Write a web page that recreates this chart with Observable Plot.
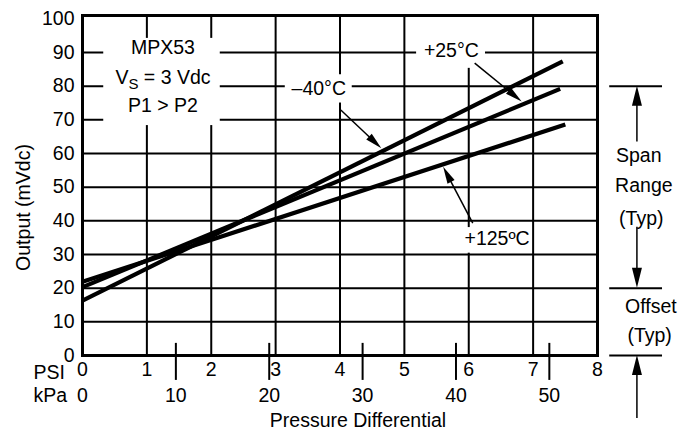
<!DOCTYPE html>
<html><head><meta charset="utf-8">
<script src="https://cdn.jsdelivr.net/npm/d3@7"></script>
<script src="https://cdn.jsdelivr.net/npm/@observablehq/plot@0.6"></script>
<style>
html,body{margin:0;padding:0;background:#fff;}
#chart svg{display:block;}
</style>
</head><body><div id="chart"></div>
<script>
// ---- data ----
const psiTicks = [0, 1, 2, 3, 4, 5, 6, 7, 8];
const kpaTicks = [0, 10, 20, 30, 40, 50];
const outputTicks = [0, 10, 20, 30, 40, 50, 60, 70, 80, 90, 100];
const seriesNames = ["–40°C", "+25°C", "+125ºC"];
const minus40Psi = [0, 7.46];
const minus40Out = [16.3, 87.4];
const plus25Psi = [0, 7.42];
const plus25Out = [20.3, 79.2];
const plus125Psi = [0, 7.50];
const plus125Out = [21.9, 68.6];
const infoLines = ["MPX53", "VS = 3 Vdc", "P1 > P2"];
const spanLabels = ["Span", "Range", "(Typ)"];
const offsetLabels = ["Offset", "(Typ)"];
const PSI_TO_KPA = 6.894757;

// ---- build rows ----
const rows = [];
[[minus40Psi, minus40Out], [plus25Psi, plus25Out], [plus125Psi, plus125Out]].forEach(([xs, ys], s) => {
  xs.forEach((x, i) => rows.push({series: seriesNames[s], psi: x, out: ys[i]}));
});
const kpaPos = kpaTicks.map(k => k / PSI_TO_KPA);

// ---- annotation placement (data units) ----
const boxes = [
  {x1: 0.33, x2: 2.14, y1: 68.3, y2: 94.2},
  {x1: 5.19, x2: 6.26, y1: 85.3, y2: 100.6},
  {x1: 3.15, x2: 4.19, y1: 75.0, y2: 83.4},
  {x1: 5.92, x2: 6.96, y1: 30.4, y2: 38.0}
];
const infoPos = [{x: 1.25, y: 91.5}, {x: 1.25, y: 82.6}, {x: 1.25, y: 74.3}];
const seriesLabelPos = [{x: 3.67, y: 79.2}, {x: 5.73, y: 90.6}, {x: 6.44, y: 34.7}];
const leaderArrows = [
  {x1: 4.02, y1: 72.8, x2: 4.65, y2: 61.4},
  {x1: 6.10, y1: 86.7, x2: 6.83, y2: 75.3},
  {x1: 6.07, y1: 39.2, x2: 5.61, y2: 55.9}
];
const rangeArrows = [
  {x1: 8.62, y1: 63.4, x2: 8.62, y2: 80},
  {x1: 8.62, y1: 38.1, x2: 8.62, y2: 20},
  {x1: 8.62, y1: -18.7, x2: 8.62, y2: 0}
];
const rangeLevels = [80, 20, 0];
const spanPos = [{x: 8.64, y: 59.2}, {x: 8.72, y: 50.3}, {x: 8.68, y: 40.7}];
const offsetPos = [{x: 8.83, y: 14.6}, {x: 8.81, y: 5.9}];

function arrowMark(arr, headLen, headW, sw) {
  return (index, scales) => {
    const g = d3.create("svg:g");
    for (const a of arr) {
      const x1 = scales.x(a.x1), y1 = scales.y(a.y1), x2 = scales.x(a.x2), y2 = scales.y(a.y2);
      const dx = x2 - x1, dy = y2 - y1, L = Math.hypot(dx, dy), ux = dx / L, uy = dy / L;
      const bx = x2 - ux * headLen, by = y2 - uy * headLen;
      g.append("line").attr("x1", x1).attr("y1", y1).attr("x2", bx + ux * 2).attr("y2", by + uy * 2)
        .attr("stroke", "black").attr("stroke-width", sw);
      g.append("path")
        .attr("d", `M${x2},${y2}L${bx - uy * headW / 2},${by + ux * headW / 2}L${bx + uy * headW / 2},${by - ux * headW / 2}Z`)
        .attr("fill", "black");
    }
    return g.node();
  };
}

const plot = Plot.plot({
  width: 679, height: 435,
  marginLeft: 82, marginRight: 82, marginTop: 15, marginBottom: 80,
  x: {domain: [0, 8]},
  y: {domain: [0, 101]},
  style: {fontFamily: "'Liberation Sans', Arial, sans-serif", fontSize: "19.5px", background: "white", color: "black"},
  marks: [
    Plot.ruleX(psiTicks.slice(1, 8), {stroke: "black", strokeWidth: 2}),
    Plot.ruleY(outputTicks.slice(1, 10), {stroke: "black", strokeWidth: 2}),
    Plot.rect(boxes, {x1: "x1", x2: "x2", y1: "y1", y2: "y2", fill: "white"}),
    Plot.line(rows, {x: "psi", y: "out", z: "series", stroke: "black", strokeWidth: 4.2, strokeLinecap: "butt"}),
    Plot.text(infoLines, {x: (d, i) => infoPos[i].x, y: (d, i) => infoPos[i].y, text: d => d}),
    Plot.text(seriesNames, {x: (d, i) => seriesLabelPos[i].x, y: (d, i) => seriesLabelPos[i].y, text: d => d}),
    arrowMark(leaderArrows, 17, 8, 1.5),
    // kPa tick marks crossing the axis
    Plot.ruleX(kpaPos.slice(1), {y1: -7.4, y2: 3.6, stroke: "black", strokeWidth: 2}),
    Plot.axisY({ticks: outputTicks, tickSize: 0, tickPadding: 8, label: null}),
    Plot.axisX({ticks: psiTicks, tickSize: 0, tickPadding: 6.5, label: null}),
    Plot.axisX({ticks: kpaPos, tickSize: 0, tickPadding: 33, tickFormat: d => String(Math.round(d * PSI_TO_KPA)), label: null}),
    Plot.text(["PSI"], {frameAnchor: "bottom-left", textAnchor: "start", lineAnchor: "middle", dx: -49, dy: 17}),
    Plot.text(["kPa"], {frameAnchor: "bottom-left", textAnchor: "start", lineAnchor: "middle", dx: -49, dy: 40.5}),
    Plot.text(["Pressure Differential"], {frameAnchor: "bottom", textAnchor: "middle", lineAnchor: "middle", dx: 18, dy: 65.5}),
    Plot.text(["Output (mVdc)"], {frameAnchor: "left", textAnchor: "middle", lineAnchor: "middle", rotate: -90, dx: -59, dy: 22}),
    // right-hand span / offset annotation
    Plot.ruleY(rangeLevels, {x1: 8.19, x2: 9.01, stroke: "black", strokeWidth: 2}),
    arrowMark(rangeArrows, 20, 10, 1.5),
    Plot.text(spanLabels, {x: (d, i) => spanPos[i].x, y: (d, i) => spanPos[i].y, text: d => d}),
    Plot.text(offsetLabels, {x: (d, i) => offsetPos[i].x, y: (d, i) => offsetPos[i].y, text: d => d}),
    Plot.frame({stroke: "black", strokeWidth: 3})
  ]
});

// subscript S in "VS = 3 Vdc"
d3.select(plot).selectAll("text").filter(function() { return this.textContent === "VS = 3 Vdc"; })
  .each(function() {
    const t = d3.select(this);
    t.text(null);
    t.append("tspan").text("V");
    t.append("tspan").attr("dy", 5).attr("font-size", "15px").text("S");
    t.append("tspan").attr("dy", -5).text(" = 3 Vdc");
  });

document.getElementById("chart").appendChild(plot);
</script>
</body></html>
